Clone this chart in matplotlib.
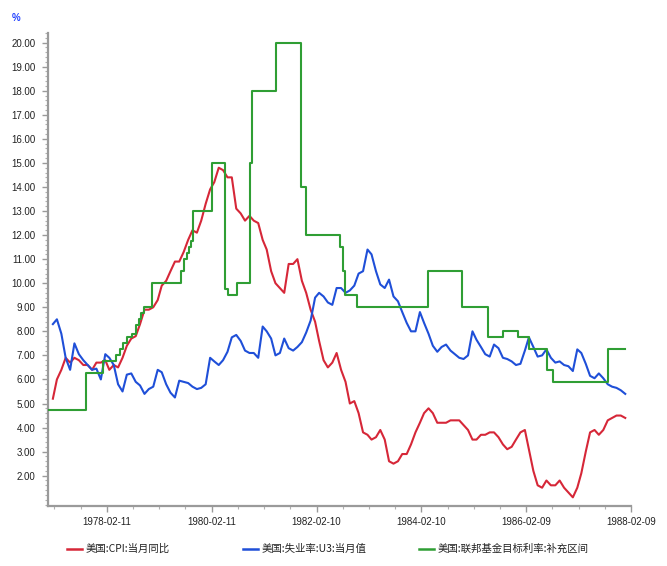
import matplotlib
matplotlib.use('Agg')
import matplotlib.pyplot as plt
from matplotlib.ticker import FixedLocator, MultipleLocator, FormatStrFormatter
from matplotlib.lines import Line2D
import matplotlib.dates as mdates
import pandas as pd

plt.rcParams['font.family'] = ['Noto Sans CJK SC', 'DejaVu Sans']

# ---------------- data ----------------
month_start = '1977-01-31'
n_months = 132

cpi_yoy = [
    5.2, 6.0, 6.4, 6.9, 6.7, 6.9, 6.8, 6.6, 6.6, 6.4, 6.7, 6.7,
    6.8, 6.4, 6.6, 6.5, 6.9, 7.4, 7.7, 7.8, 8.3, 8.9, 8.9, 9.0,
    9.3, 9.9, 10.1, 10.5, 10.9, 10.9, 11.3, 11.8, 12.2, 12.1, 12.6, 13.3,
    13.9, 14.2, 14.8, 14.7, 14.4, 14.4, 13.1, 12.9, 12.6, 12.8, 12.6, 12.5,
    11.8, 11.4, 10.5, 10.0, 9.8, 9.6, 10.8, 10.8, 11.0, 10.1, 9.6, 8.9,
    8.4, 7.6, 6.8, 6.5, 6.7, 7.1, 6.4, 5.9, 5.0, 5.1, 4.6, 3.8,
    3.7, 3.5, 3.6, 3.9, 3.5, 2.6, 2.5, 2.6, 2.9, 2.9, 3.3, 3.8,
    4.2, 4.6, 4.8, 4.6, 4.2, 4.2, 4.2, 4.3, 4.3, 4.3, 4.1, 3.9,
    3.5, 3.5, 3.7, 3.7, 3.8, 3.8, 3.6, 3.3, 3.1, 3.2, 3.5, 3.8,
    3.9, 3.1, 2.2, 1.6, 1.5, 1.8, 1.6, 1.6, 1.8, 1.5, 1.3, 1.1,
    1.5, 2.1, 3.0, 3.8, 3.9, 3.7, 3.9, 4.3, 4.4, 4.5, 4.5, 4.4,
]

unemployment = [
    8.3, 8.5, 7.9, 6.9, 6.4, 7.5, 7.05, 6.8, 6.6, 6.4, 6.45, 6.0,
    7.05, 6.9, 6.6, 5.8, 5.5, 6.2, 6.25, 5.9, 5.75, 5.4, 5.6, 5.7,
    6.4, 6.3, 5.8, 5.45, 5.25, 5.95, 5.9, 5.85, 5.7, 5.6, 5.65, 5.8,
    6.9, 6.75, 6.6, 6.8, 7.15, 7.75, 7.85, 7.6, 7.2, 7.1, 7.1, 6.9,
    8.2, 8.0, 7.7, 7.0, 7.1, 7.7, 7.3, 7.2, 7.35, 7.55, 7.95, 8.45,
    9.4, 9.6, 9.45, 9.2, 9.1, 9.8, 9.8, 9.6, 9.7, 9.9, 10.4, 10.5,
    11.4, 11.2, 10.5, 9.95, 9.8, 10.15, 9.45, 9.25, 8.8, 8.35, 8.0, 8.0,
    8.8, 8.35, 7.9, 7.4, 7.15, 7.35, 7.45, 7.2, 7.05, 6.9, 6.85, 7.0,
    8.0, 7.65, 7.35, 7.05, 6.95, 7.45, 7.3, 6.9, 6.85, 6.75, 6.6, 6.65,
    7.2, 7.75, 7.35, 6.95, 7.0, 7.25, 6.9, 6.7, 6.75, 6.6, 6.55, 6.35,
    7.25, 7.1, 6.65, 6.15, 6.05, 6.25, 6.05, 5.8, 5.7, 5.65, 5.55, 5.4,
]

fed_dates = [
    '1977-01-01', '1977-09-18', '1978-01-16', '1978-04-19', '1978-05-12',
    '1978-06-04', '1978-07-02', '1978-08-06', '1978-08-30', '1978-09-21',
    '1978-10-10', '1978-10-26', '1978-12-19', '1979-07-15', '1979-07-31',
    '1979-08-23', '1979-09-06', '1979-09-23', '1979-10-04', '1980-02-15',
    '1980-05-17', '1980-06-02', '1980-08-07', '1980-11-01', '1980-11-20',
    '1981-05-06', '1981-10-27', '1981-11-30', '1982-07-26', '1982-08-16',
    '1982-08-27', '1982-11-19', '1984-03-24', '1984-11-19', '1985-05-21',
    '1985-09-04', '1985-12-15', '1986-03-02', '1986-07-07', '1986-08-18',
    '1987-09-02', '1987-12-31',
]
fed_target = [
    4.75, 6.25, 6.75, 7.0, 7.25,
    7.5, 7.75, 7.875, 8.25, 8.5,
    8.75, 9.0, 10.0, 10.5, 11.0,
    11.25, 11.5, 11.75, 13.0, 15.0,
    9.75, 9.5, 10.0, 15.0, 18.0,
    20.0, 14.0, 12.0, 11.5, 10.5,
    9.5, 9.0, 10.5, 9.0, 7.75,
    8.0, 7.75, 7.25, 6.375, 5.875,
    7.25, 7.25,
]

y_ticks = [2, 3, 4, 5, 6, 7, 8, 9, 10, 11, 12, 13, 14, 15, 16, 17, 18, 19, 20]
x_tick_labels = ['1978-02-11', '1980-02-11', '1982-02-10', '1984-02-10', '1986-02-09', '1988-02-09']

series_names = ['美国:CPI:当月同比', '美国:失业率:U3:当月值', '美国:联邦基金目标利率:补充区间']
colors = ['#d62738', '#1f4fd8', '#2f9e34']

# ---------------- figure ----------------
W, H = 667, 566
fig = plt.figure(figsize=(W / 100, H / 100), dpi=100)
ax = fig.add_axes([48 / W, 1 - 506 / H, (631 - 48) / W, (506 - 33) / H])

months = pd.date_range(month_start, periods=n_months, freq='ME')
ax.plot(months, cpi_yoy, color=colors[0], lw=1.5, zorder=3)
ax.plot(months, unemployment, color=colors[1], lw=1.5, zorder=3)
ax.plot(pd.to_datetime(fed_dates), fed_target, drawstyle='steps-post',
        color=colors[2], lw=1.5, zorder=4)

ax.set_xlim(pd.Timestamp('1976-12-28'), pd.Timestamp('1988-02-09'))
ax.set_ylim(0.74, 20.4)

# y axis
ax.yaxis.set_major_locator(FixedLocator(y_ticks))
ax.yaxis.set_major_formatter(FormatStrFormatter('%.2f'))
ax.yaxis.set_minor_locator(MultipleLocator(0.2))

# x axis
major_dates = pd.to_datetime(x_tick_labels)
ax.set_xticks(mdates.date2num(major_dates))
ax.set_xticklabels(x_tick_labels)
base = pd.Timestamp('1978-02-11')
minor = [mdates.date2num(base + pd.Timedelta(days=182.5 * k)) for k in range(-2, 21) if k % 4 != 0]
ax.xaxis.set_minor_locator(FixedLocator(minor))

for s in ['top', 'right']:
    ax.spines[s].set_visible(False)
for s in ['left', 'bottom']:
    ax.spines[s].set_color('#9a9a9a')
    ax.spines[s].set_linewidth(1.6)

ax.tick_params(axis='both', which='major', direction='out', length=4, width=1,
               color='#9a9a9a', labelsize=7, labelcolor='#222222')
ax.tick_params(axis='both', which='minor', direction='out', length=2, width=0.8,
               color='#b0b0b0')
ax.tick_params(axis='y', which='major', pad=5)
ax.tick_params(axis='x', which='major', pad=4)
for lab in ax.get_xticklabels() + ax.get_yticklabels():
    lab.set_family(['Liberation Sans', 'DejaVu Sans'])

# unit label
fig.text(16 / W, 1 - 18 / H, '%', color='#2040ff', fontsize=7, fontweight='bold',
         ha='center', va='center', family=['Liberation Sans', 'DejaVu Sans'])

# legend (manual)
leg_y = 1 - 549 / H
leg_x = [(67, 82, 86), (243, 258, 262), (419, 434, 438)]
for (x0, x1, xt), name, c in zip(leg_x, series_names, colors):
    fig.add_artist(Line2D([x0 / W, x1 / W], [leg_y, leg_y], color=c, lw=1.8,
                          transform=fig.transFigure))
    fig.text(xt / W, leg_y, name, fontsize=7.5, va='center', ha='left', color='#222222')

fig.savefig('out.png', dpi=100)
